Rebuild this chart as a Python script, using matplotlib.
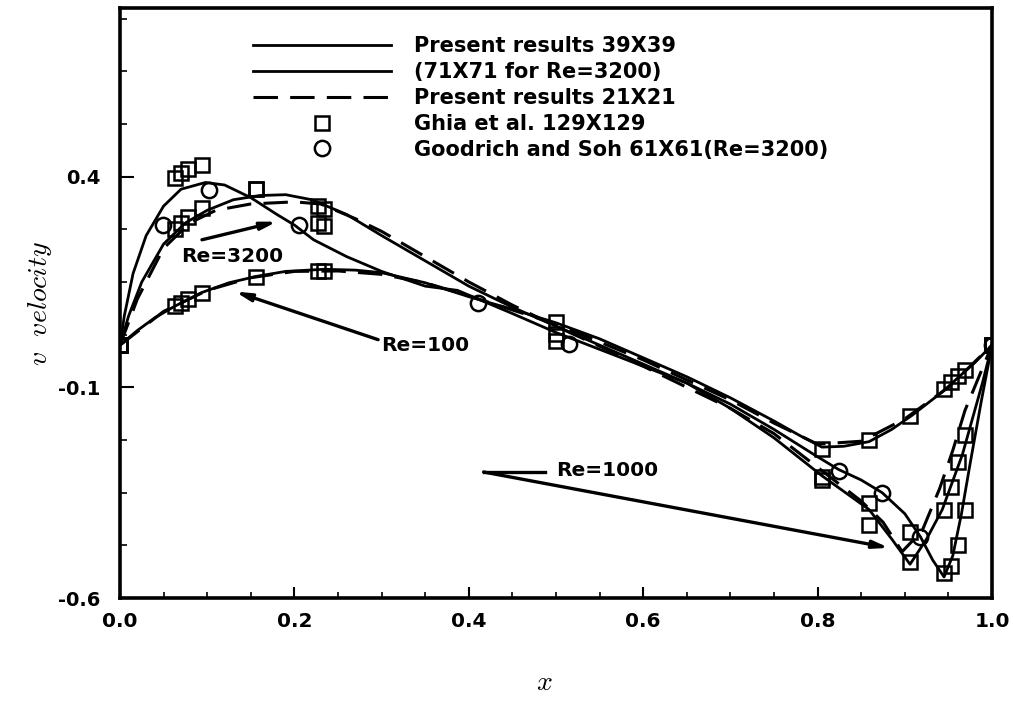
import matplotlib
matplotlib.use("Agg")
import matplotlib.pyplot as plt
import numpy as np

plt.rcParams['font.family'] = ['DejaVu Sans']
plt.rcParams['font.weight'] = 'bold'
plt.rcParams['mathtext.fontset'] = 'cm'

# Ghia et al. 129x129 (v along horizontal centreline)
ghia_x = [1.0000, 0.9688, 0.9609, 0.9531, 0.9453, 0.9063, 0.8594, 0.8047, 0.5000,
          0.2344, 0.2266, 0.1563, 0.0938, 0.0781, 0.0703, 0.0625, 0.0000]
ghia_re100 = [0.0, -0.05906, -0.07391, -0.08864, -0.10313, -0.16914, -0.22445, -0.24533,
              0.05454, 0.17527, 0.17507, 0.16077, 0.12317, 0.10890, 0.10091, 0.09233, 0.0]
ghia_re1000 = [0.0, -0.21388, -0.27669, -0.33714, -0.39188, -0.51550, -0.42665, -0.31966,
               0.02526, 0.32235, 0.33075, 0.37095, 0.32627, 0.30353, 0.29012, 0.27485, 0.0]
ghia_re3200 = [0.0, -0.39017, -0.47425, -0.52357, -0.54053, -0.44307, -0.37401, -0.31184,
               0.00999, 0.28188, 0.29030, 0.37119, 0.42768, 0.41906, 0.40917, 0.39560, 0.0]

# Goodrich and Soh 61x61, Re=3200
gs_x = [0.049, 0.102, 0.205, 0.41, 0.515, 0.824, 0.874, 0.918, 1.0]
gs_v = [0.284, 0.367, 0.284, 0.10, 0.002, -0.298, -0.35, -0.455, 0.0]

# present results 39x39, Re=100
re100_x = [0.0, 0.02, 0.04, 0.0625, 0.094, 0.125, 0.156, 0.19, 0.234, 0.27, 0.3, 0.35,
           0.4, 0.45, 0.5, 0.55, 0.6, 0.65, 0.7, 0.75, 0.78, 0.805, 0.83, 0.859, 0.885,
           0.908, 0.943, 0.966, 0.98, 1.0]
re100_v = [0.0, 0.035, 0.065, 0.092, 0.125, 0.148, 0.163, 0.175, 0.18, 0.178, 0.172, 0.148,
           0.115, 0.085, 0.053, 0.015, -0.03, -0.075, -0.125, -0.18, -0.215, -0.242, -0.24,
           -0.229, -0.2, -0.167, -0.111, -0.068, -0.042, 0.0]

# present results 39x39, Re=1000
re1000_x = [0.0, 0.01, 0.025, 0.05, 0.075, 0.1, 0.13, 0.16, 0.19, 0.22, 0.26, 0.3, 0.35,
            0.4, 0.45, 0.5, 0.55, 0.6, 0.65, 0.7, 0.75, 0.805, 0.859, 0.885, 0.906, 0.925,
            0.943, 0.966, 0.989, 1.0]
re1000_v = [0.0, 0.07, 0.15, 0.24, 0.29, 0.32, 0.345, 0.355, 0.357, 0.345, 0.31, 0.26, 0.2,
            0.14, 0.09, 0.045, 0.0, -0.045, -0.09, -0.15, -0.22, -0.31, -0.39, -0.46, -0.52,
            -0.46, -0.39, -0.26, -0.09, 0.0]

# present results 71x71, Re=3200
re3200_x = [0.0, 0.005, 0.015, 0.03, 0.05, 0.07, 0.098, 0.12, 0.15, 0.18, 0.2, 0.222, 0.26,
            0.3, 0.35, 0.387, 0.45, 0.5, 0.55, 0.6, 0.65, 0.7, 0.75, 0.8, 0.824, 0.85, 0.874,
            0.9, 0.918, 0.932, 0.945, 0.955, 0.965, 0.975, 0.988, 1.0]
re3200_v = [0.0, 0.07, 0.17, 0.26, 0.33, 0.37, 0.386, 0.38, 0.35, 0.31, 0.285, 0.25, 0.21,
            0.175, 0.14, 0.13, 0.075, 0.03, -0.01, -0.05, -0.09, -0.14, -0.2, -0.265, -0.295,
            -0.32, -0.35, -0.4, -0.455, -0.51, -0.55, -0.5, -0.4, -0.28, -0.13, 0.0]

# present results 21x21
d100_x = [0.0, 0.05, 0.1, 0.15, 0.2, 0.25, 0.3, 0.35, 0.4, 0.5, 0.6, 0.7, 0.75, 0.8, 0.85,
          0.9, 0.95, 1.0]
d100_v = [0.0, 0.08, 0.13, 0.16, 0.175, 0.176, 0.168, 0.148, 0.117, 0.05, -0.035, -0.13,
          -0.185, -0.235, -0.228, -0.175, -0.1, 0.0]
d1000_x = [0.0, 0.02, 0.05, 0.08, 0.11, 0.15, 0.2, 0.23, 0.27, 0.3, 0.35, 0.4, 0.45, 0.5,
           0.6, 0.7, 0.75, 0.8, 0.85, 0.875, 0.897, 0.92, 0.94, 0.955, 0.969, 0.98, 1.0]
d1000_v = [0.0, 0.11, 0.23, 0.29, 0.32, 0.335, 0.34, 0.335, 0.3, 0.27, 0.21, 0.15, 0.095,
           0.045, -0.05, -0.15, -0.21, -0.29, -0.37, -0.42, -0.49, -0.44, -0.34, -0.25,
           -0.155, -0.1, 0.0]

fig = plt.figure(figsize=(10.13, 7.04), dpi=100)
ax = fig.add_axes([120 / 1013, 106 / 704, 872 / 1013, 590 / 704])

lw = 2.0
h39, = ax.plot(re100_x, re100_v, color='black', lw=lw)
ax.plot(re1000_x, re1000_v, color='black', lw=lw)
h71, = ax.plot(re3200_x, re3200_v, color='black', lw=lw)
dash = (0, (8, 4))
h21, = ax.plot(d100_x, d100_v, color='black', lw=2.2, linestyle=dash)
ax.plot(d1000_x, d1000_v, color='black', lw=2.2, linestyle=dash)

sq = dict(linestyle='none', marker='s', ms=10, mfc='none', mec='black', mew=1.8)
hg, = ax.plot(ghia_x, ghia_re100, **sq)
ax.plot(ghia_x, ghia_re1000, **sq)
ax.plot(ghia_x, ghia_re3200, **sq)
hc, = ax.plot(gs_x, gs_v, linestyle='none', marker='o', ms=11, mfc='none', mec='black', mew=1.8)

ax.legend([h39, h71, h21, hg, hc],
          ['Present results 39X39', '(71X71 for Re=3200)', 'Present results 21X21',
           'Ghia et al. 129X129', 'Goodrich and Soh 61X61(Re=3200)'],
          loc='upper left', bbox_to_anchor=(245 / 1013, 1 - 28 / 704),
          bbox_transform=fig.transFigure, frameon=False, fontsize=15,
          handlelength=6.6, handletextpad=1.1, labelspacing=0.28, borderaxespad=0)

# annotations
arr = dict(arrowstyle='-|>,head_length=0.9,head_width=0.22', color='black', lw=2.4,
           shrinkA=0, shrinkB=0)
ax.annotate('', xy=(0.180, 0.293), xytext=(0.094, 0.250), arrowprops=arr)
ax.text(0.129, 0.21, 'Re=3200', fontsize=14.5, ha='center', va='center')
ax.annotate('', xy=(0.132, 0.127), xytext=(0.296, 0.013), arrowprops=arr)
ax.text(0.299, -0.001, 'Re=100', fontsize=14.5, ha='left', va='center')
ax.annotate('', xy=(0.882, -0.481), xytext=(0.417, -0.301), arrowprops=arr)
ax.plot([0.417, 0.487], [-0.301, -0.301], color='black', lw=2.4)
ax.text(0.5, -0.298, 'Re=1000', fontsize=14.5, ha='left', va='center')

ax.set_xlim(0, 1)
ax.set_ylim(-0.6, 0.8)
ax.set_xticks(np.arange(0, 1.01, 0.2))
ax.set_xticks(np.arange(0, 1.001, 0.05), minor=True)
ax.set_xticklabels(['0.0', '0.2', '0.4', '0.6', '0.8', '1.0'])
ax.set_yticks([-0.6, -0.1, 0.4])
ax.set_yticklabels(['-0.6', '-0.1', '0.4'])
ax.set_yticks(np.arange(-0.6, 0.8, 0.125), minor=True)
ax.tick_params(axis='x', which='major', direction='in', length=8, width=1.5, labelsize=14.5, pad=10)
ax.tick_params(axis='x', which='minor', direction='in', length=4, width=1.2)
ax.tick_params(axis='y', which='major', direction='in', length=10, width=1.5, labelsize=14, pad=14)
ax.tick_params(axis='y', which='minor', direction='in', length=5, width=1.2)
for s in ax.spines.values():
    s.set_linewidth(2.6)

ax.set_xlabel(r'$x$', fontsize=20, va='center')
ax.xaxis.set_label_coords(0.487, -0.142)
ax.set_ylabel(r'$v\ \ velocity$', fontsize=20, va='center')
ax.yaxis.set_label_coords(-0.092, 0.50)

fig.savefig('out.png', dpi=100)
